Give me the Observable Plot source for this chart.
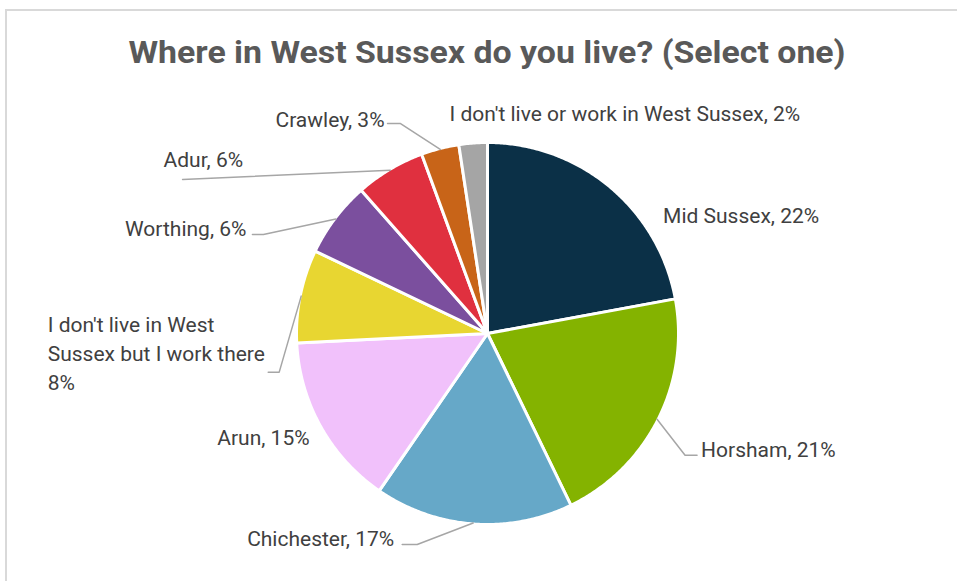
<!DOCTYPE html>
<html><head><meta charset="utf-8">
<script src="https://cdn.jsdelivr.net/npm/d3@7"></script>
<script src="https://cdn.jsdelivr.net/npm/@observablehq/plot@0.6"></script>
<style>
html,body{margin:0;padding:0;background:#fff;width:957px;height:581px;overflow:hidden;position:relative;}
#frame{position:absolute;left:5px;top:9px;width:980px;height:600px;border-top:2px solid #d9d9d9;border-left:2px solid #d9d9d9;}
#title{position:absolute;left:0;top:0;width:957px;height:90px;}
#title span{position:absolute;left:486.5px;top:52px;font-family:Roboto,"Liberation Sans",sans-serif;font-weight:700;font-size:31px;line-height:normal;color:#595959;white-space:nowrap;transform-origin:50% 50%;transform:translate(-50%,-50%);}
#chart{position:absolute;left:0;top:90px;}
</style>
</head><body>
<div id="frame"></div>
<div id="title"><span id="titleText">Where in West Sussex do you live? (Select one)</span></div>
<div id="chart"></div>
<script>
// ---- data ----
const categories = ["Mid Sussex","Horsham","Chichester","Arun","I don't live in West Sussex but I work there","Worthing","Adur","Crawley","I don't live or work in West Sussex"];
const categoryLabels = ["Mid Sussex","Horsham","Chichester","Arun","I don't live in West\nSussex but I work there","Worthing","Adur","Crawley","I don't live or work in West Sussex"];
const values = [22.1, 20.7, 16.8, 14.6, 7.9, 6.4, 5.9, 3.2, 2.4];
const colors = ["#0b3047","#84b300","#66a8c8","#f1c1fb","#e8d631","#7b4f9e","#e0303f","#c86418","#a5a5a5"];

// ---- layout (label placement relative to each slice's outer edge) ----
const labelLayout = [
  {t:[54,26], a:"start", l:null},
  {t:[44,28], a:"start", l:[[28,36],[40,36]]},
  {t:[-79,13.5], a:"end", l:[[-56,21.5],[-71,21.5]]},
  {t:[-12,10], a:"end", l:null},
  {t:[-253.5,55.5], a:"start", l:[[-22,76],[-33,76]]},
  {t:[-89.5,7.6], a:"end", l:[[-72.5,15.6],[-83.5,15.6]]},
  {t:[-226.7,-12.8], a:"start", l:[[-207.7,9.2]]},
  {t:[-55.7,-31.9], a:"end", l:[[-39.7,-25.9],[-52.7,-25.9]]},
  {t:[-23.7,-32.6], a:"start", l:null}
];

const W = 957, H = 491, TOP = 90;
const cx = 487, cy = 333, R = 191, Redge = 190;

const arcs = d3.pie().sort(null).value(d => d)(values);
const total = d3.sum(values);

const slicePts = [];
arcs.forEach((a, i) => {
  const name = categories[i];
  slicePts.push({name, x: cx, y: cy});
  const n = Math.max(2, Math.ceil((a.endAngle - a.startAngle) / (Math.PI / 360)));
  for (let k = 0; k <= n; k++) {
    const t = a.startAngle + (a.endAngle - a.startAngle) * k / n;
    slicePts.push({name, x: cx + R * Math.sin(t), y: cy - R * Math.cos(t)});
  }
});

const leaderPts = [];
const labels = [];
arcs.forEach((a, i) => {
  const m = (a.startAngle + a.endAngle) / 2;
  const px = cx + Redge * Math.sin(m), py = cy - Redge * Math.cos(m);
  const L = labelLayout[i];
  if (L.l) {
    leaderPts.push({name: categories[i], x: px, y: py});
    L.l.forEach(([dx, dy]) => leaderPts.push({name: categories[i], x: px + dx, y: py + dy}));
  }
  const pct = Math.round(values[i] / total * 100) + "%";
  const lab = categoryLabels[i];
  const text = lab + (lab.includes("\n") ? "\n" : ", ") + pct;
  labels.push({name: categories[i], x: px + L.t[0], y: py + L.t[1], text, anchor: L.a});
});

const chart = Plot.plot({
  width: W, height: H,
  margin: 0,
  x: {domain: [0, W], range: [0, W], axis: null},
  y: {domain: [TOP, TOP + H], range: [0, H], axis: null},
  color: {domain: categories, range: colors},
  style: {background: "transparent", overflow: "visible"},
  marks: [
    Plot.line(slicePts, {x: "x", y: "y", z: "name", fill: "name", stroke: "white", strokeWidth: 3, strokeLinejoin: "round", curve: "linear-closed"}),
    Plot.line(leaderPts, {x: "x", y: "y", z: "name", stroke: "#a6a6a6", strokeWidth: 1.5}),
    Plot.text(labels.filter(d => d.anchor === "start"), {x: "x", y: "y", text: "text", textAnchor: "start", fill: "#404040", fontSize: 21, fontFamily: "Roboto", lineHeight: 1.38}),
    Plot.text(labels.filter(d => d.anchor === "end"), {x: "x", y: "y", text: "text", textAnchor: "end", fill: "#404040", fontSize: 21, fontFamily: "Roboto", lineHeight: 1.38})
  ]
});
document.getElementById("chart").appendChild(chart);

function fitTitle() {
  const s = document.getElementById("titleText");
  s.style.transform = "translate(-50%,-50%)";
  const w = s.getBoundingClientRect().width;
  s.style.transform = `translate(-50%,-50%) scaleX(${717 / w})`;
}
fitTitle();
if (document.fonts && document.fonts.ready) document.fonts.ready.then(fitTitle);
</script>
</body></html>
